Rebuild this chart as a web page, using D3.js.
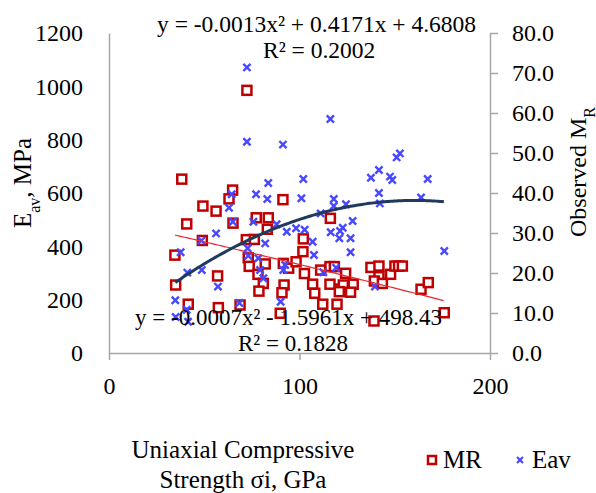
<!DOCTYPE html>
<html><head><meta charset="utf-8">
<script src="https://cdn.jsdelivr.net/npm/d3@7"></script>
<style>body{margin:0;background:#fff}svg{display:block}text{font-family:"Liberation Serif","Times New Roman",serif;fill:#000}</style>
</head><body>
<script>
// ---- data ----
const mrX = [72.4,38.2,64.9,63,91.3,49.3,56.2,40.8,65.1,77.3,83.6,83.1,49,72.1,76.3,102,34.6,73.1,101.8,82,73.6,91.5,94.3,98.2,102.6,78.2,57,81,91.9,78.7,90.8,35,41.6,57.4,68.8,89.9,116.2,111.1,116,118.3,124.2,106.9,108,116,121.3,123,128.2,126.8,120.9,112.2,119.7,137.5,141.7,141.7,139.3,143.5,147.8,150.1,152,154,163.8,167.6,176,139.1];
const mrY = [985,652,611,578,575,551,532,484,487,507,507,464,422,425,426,428,367,357,380,334,325,336,318,342,298,295,289,261,255,232,226,255,183,170,180,149,505,311,324,324,299,258,224,258,240,255,258,228,230,183,183,321,326,286,270,261,295,326,326,326,239,264,151,120];
const eavX = [72.4,72.4,91.3,83.6,102,64.4,77.2,83.1,101,116.2,152.7,151,141.7,137.5,147.5,148.7,167.3,141.7,118,163.8,63,65,75.8,88,56.2,48.5,93.3,98.2,102.7,82,37.6,72.8,73.1,78.4,92.5,91.5,41.1,48.7,79.3,57.2,81,34.8,40.8,68.4,90.1,41.5,35,118,142.2,124.4,111.1,127.9,122.7,121.3,116.4,106.9,120.9,126.8,107.6,126.8,176,112.5,119.2,139.6];
const eavY = [71.4,52.8,52.1,42.5,43.5,39.7,39.7,38.5,38.7,58.5,49.9,48.9,45.75,43.8,44.1,43.25,43.5,40,38.5,38.9,36.3,32.8,32.8,32.2,29.9,28.1,30.3,31.2,30.8,27.4,25.2,26.2,24.3,23.7,22,20.75,20.1,20.75,20.75,16.6,18.7,13.2,10.8,12.5,12.8,7.8,9,36.75,37.4,37.2,34.9,33,31.3,30.5,30.2,27.8,28.7,28.7,24.5,25.2,25.5,20.2,21.3,16.6];
// trendline coefficients [a, b, c] for y = a x^2 + b x + c, as labelled in the chart
const eavTrend = [-0.0013, 0.4171, 4.6808];
const mrTrend = [-0.0007, -1.5961, 498.43];
const eavEq = "y = -0.0013x² + 0.4171x + 4.6808", eavR2 = "R² = 0.2002";
const mrEq = "y = -0.0007x² - 1.5961x + 498.43", mrR2 = "R² = 0.1828";
const xTicks = [0,100,200];
const leftTicks = [0,200,400,600,800,1000,1200];
const rightTicks = [0,10,20,30,40,50,60,70,80];

const W=596,H=493;
const svg=d3.select("body").append("svg").attr("width",W).attr("height",H);
svg.append("rect").attr("width",W).attr("height",H).attr("fill","#fff");
const x=d3.scaleLinear([0,200],[109,490]);
const yL=d3.scaleLinear([0,1200],[353,33]);
const yR=d3.scaleLinear([0,80],[353,33]);
const grey="#a6a6a6", FS=24;

// axes
const gx=svg.append("g").attr("transform","translate(0,353)")
  .call(d3.axisBottom(x).tickValues(xTicks).tickSize(7).tickSizeOuter(0).tickPadding(17).tickFormat(d3.format("d")));
const gl=svg.append("g").attr("transform","translate(109,0)")
  .call(d3.axisLeft(yL).tickValues(leftTicks).tickSize(0).tickPadding(26).tickFormat(d3.format("d")));
const gr=svg.append("g").attr("transform","translate(490,0)")
  .call(d3.axisRight(yR).tickValues(rightTicks).tickSize(8).tickSizeOuter(0).tickPadding(14).tickFormat(d3.format(".1f")));
[gx,gl,gr].forEach(g=>{
  g.selectAll("path.domain").attr("stroke",grey).attr("stroke-width",1.5);
  g.selectAll(".tick line").attr("stroke",grey).attr("stroke-width",1.5);
  g.selectAll(".tick text").style("font-family",'"Liberation Serif",serif').style("font-size",FS+"px").attr("fill","#000");
});

// points
const mr=d3.zip(mrX,mrY), eav=d3.zip(eavX,eavY);
svg.append("g").selectAll("rect").data(mr).join("rect")
  .attr("x",d=>x(d[0])-4.5).attr("y",d=>yL(d[1])-4.5).attr("width",9).attr("height",9)
  .attr("fill","#fff").attr("stroke","#c00000").attr("stroke-width",2.5);
const s=3.6;
svg.append("g").selectAll("path").data(eav).join("path")
  .attr("d",d=>{const cx=x(d[0]),cy=yR(d[1]);return `M${cx-s},${cy-s}L${cx+s},${cy+s}M${cx-s},${cy+s}L${cx+s},${cy-s}`;})
  .attr("stroke","#4848ff").attr("stroke-width",2.4).attr("fill","none");

// trendlines
const poly=(c,v)=>c[0]*v*v+c[1]*v+c[2];
const xsE=d3.range(d3.min(eavX),d3.max(eavX)+0.01,1);
const xsM=d3.range(d3.min(mrX),d3.max(mrX)+0.01,1);
svg.append("path").attr("d",d3.line().x(v=>x(v)).y(v=>yL(poly(mrTrend,v)))(xsM))
  .attr("fill","none").attr("stroke","#e8282c").attr("stroke-width",1.2);
svg.append("path").attr("d",d3.line().x(v=>x(v)).y(v=>yR(poly(eavTrend,v))).curve(d3.curveBasis)(xsE))
  .attr("fill","none").attr("stroke","#1f3a5c").attr("stroke-width",3);

// equations
const t=(str,xx,yy,fs)=>svg.append("text").attr("x",xx).attr("y",yy).style("font-size",fs+"px").text(str);
t(eavEq,157,32,23.5);
t(eavR2,263,58,23.5);
t(mrEq,135,325,23);
t(mrR2,238,351,23);

// axis titles
const lt=svg.append("text").attr("transform","translate(31,183) rotate(-90)").attr("text-anchor","middle").style("font-size","25px");
lt.append("tspan").text("E");
lt.append("tspan").attr("baseline-shift","sub").style("font-size","16px").text("av");
lt.append("tspan").text(", MPa");
const rt=svg.append("text").attr("transform","translate(586,172) rotate(-90)").attr("text-anchor","middle").style("font-size","24px");
rt.append("tspan").text("Observed M");
rt.append("tspan").attr("baseline-shift","sub").style("font-size","16px").text("R");
svg.append("text").attr("x",243).attr("y",458).attr("text-anchor","middle").style("font-size","25px").text("Uniaxial Compressive");
svg.append("text").attr("x",243).attr("y",488).attr("text-anchor","middle").style("font-size","25px").text("Strength σi, GPa");

// legend
svg.append("rect").attr("x",428).attr("y",456).attr("width",8).attr("height",8).attr("fill","#fff").attr("stroke","#c00000").attr("stroke-width",2.5);
svg.append("text").attr("x",443).attr("y",468).style("font-size","25px").text("MR");
const lx=520,ly=460,ls=3;
svg.append("path").attr("d",`M${lx-ls},${ly-ls}L${lx+ls},${ly+ls}M${lx-ls},${ly+ls}L${lx+ls},${ly-ls}`).attr("stroke","#4848ff").attr("stroke-width",2.2);
svg.append("text").attr("x",532).attr("y",468).style("font-size","25px").text("Eav");
</script>
</body></html>
